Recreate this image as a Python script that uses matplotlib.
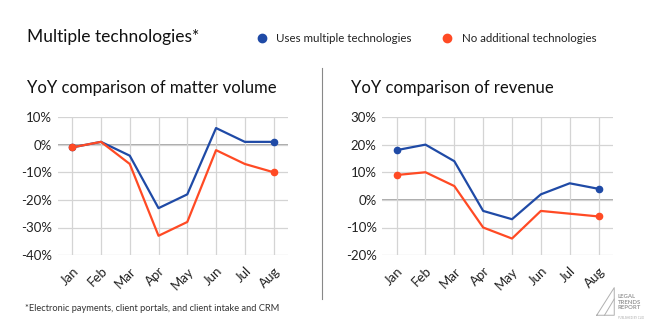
import matplotlib.pyplot as plt
from matplotlib.lines import Line2D

plt.rcParams['font.family'] = ['Lato', 'DejaVu Sans']

months = ["Jan", "Feb", "Mar", "Apr", "May", "Jun", "Jul", "Aug"]

# YoY matter volume (%)
vol_multi = [-1, 1, -4, -23, -18, 6, 1, 1]
vol_none = [-1, 1, -7, -33, -28, -2, -7, -10]

# YoY revenue (%)
rev_multi = [18, 20, 14, -4, -7, 2, 6, 4]
rev_none = [9, 10, 5, -10, -14, -4, -5, -6]

blue = "#1f4aa6"
red = "#ff4a24"
grid_col = "#d4d4d4"

fig = plt.figure(figsize=(6.5, 3.25), dpi=100)


def draw_panel(ax, multi, none, lo, hi):
    x = range(len(months))
    for vals, c, z in [(multi, blue, 2), (none, red, 3)]:
        ax.plot(x, vals, color=c, lw=1.6, zorder=z)
        ax.plot([0, len(vals) - 1], [vals[0], vals[-1]], "o", color=c,
                ms=4.5, zorder=z)
    ax.set_xlim(-0.5, len(months) - 0.5)
    ax.set_ylim(lo, hi)
    ax.set_yticks(range(lo, hi + 1, 10))
    ax.set_yticklabels([f"{v}%" for v in range(lo, hi + 1, 10)])
    ax.set_xticks(list(x))
    ax.set_xticklabels(months, rotation=45, ha="right", rotation_mode="anchor")
    ax.grid(True, color=grid_col, lw=0.9)
    ax.axhline(0, color="#a8a8a8", lw=1.4, zorder=1)
    for s in ax.spines.values():
        s.set_visible(False)
    ax.tick_params(length=0, labelsize=9.5, colors="#222222", pad=4)
    ax.tick_params(axis="x", pad=7)


ax1 = fig.add_axes([0.089, 0.215, 0.354, 0.425])
draw_panel(ax1, vol_multi, vol_none, -40, 10)

ax2 = fig.add_axes([0.588, 0.215, 0.355, 0.425])
draw_panel(ax2, rev_multi, rev_none, -20, 30)

fig.text(0.042, 0.885, "Multiple technologies*", fontsize=12.5, va="center",
         color="#111111")
fig.text(0.042, 0.73, "YoY comparison of matter volume", fontsize=12,
         va="center", color="#111111")
fig.text(0.54, 0.73, "YoY comparison of revenue", fontsize=12,
         va="center", color="#111111")

# legend
fig.lines.append(Line2D([0.403], [0.883], marker="o", color=blue, ms=6,
                        transform=fig.transFigure))
fig.text(0.425, 0.883, "Uses multiple technologies", fontsize=8.3,
         va="center", color="#222222")
fig.lines.append(Line2D([0.688], [0.883], marker="o", color=red, ms=6,
                        transform=fig.transFigure))
fig.text(0.71, 0.883, "No additional technologies", fontsize=8.3,
         va="center", color="#222222")

# divider between panels
fig.lines.append(Line2D([0.495, 0.495], [0.08, 0.79], color="#888888",
                        lw=0.8, transform=fig.transFigure))

fig.text(0.038, 0.052, "*Electronic payments, client portals, and client intake and CRM",
         fontsize=6.7, va="center", color="#333333")

# report logo
fig.lines.append(Line2D([0.918, 0.945, 0.945, 0.918],
                        [0.03, 0.115, 0.03, 0.03], color="#b0b0b0", lw=0.7,
                        transform=fig.transFigure))
fig.lines.append(Line2D([0.93, 0.945], [0.03, 0.08], color="#b0b0b0", lw=0.7,
                        transform=fig.transFigure))
fig.text(0.95, 0.07, "LEGAL\nTRENDS\nREPORT", fontsize=4.3, va="center",
         color="#999999", fontweight="bold", linespacing=1.1)
fig.text(0.95, 0.022, "PUBLISHED BY CLIO", fontsize=2, va="center",
         color="#aaaaaa")

fig.savefig("out.png", dpi=100)
